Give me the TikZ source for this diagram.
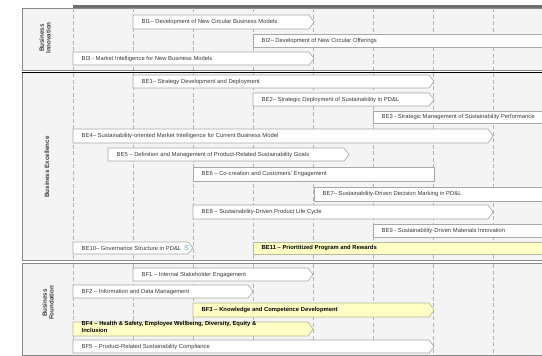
\documentclass[tikz,border=0pt]{standalone}
\usepackage{fontspec}
\setmainfont{Liberation Sans}
\definecolor{panelfill}{HTML}{F4F4F4}
\definecolor{panelline}{HTML}{8A8A8A}
\definecolor{gridline}{HTML}{B4B4B4}
\definecolor{barline}{HTML}{A8A8A8}
\definecolor{hlfill}{HTML}{FFFFC6}
\definecolor{hlline}{HTML}{B8B89A}
\definecolor{txt}{HTML}{3A3A3A}
\definecolor{scyan}{HTML}{3FAFD0}
\tikzset{
  panel/.style={draw=panelline,fill=panelfill,line width=0.6pt},
  grid/.style={draw=gridline,line width=0.5pt,dash pattern=on 4pt off 2.5pt},
  plainbar/.style={draw=barline,fill=white,line width=0.6pt},
  hlbar/.style={draw=hlline,fill=hlfill,line width=0.6pt},
  plaintext/.style={anchor=west,inner sep=0pt,text=txt,font=\fontsize{5.85}{6.5}\selectfont},
  hltext/.style={anchor=west,inner sep=0pt,text=black,font=\fontsize{5.85}{6.5}\selectfont\bfseries},
  grouplabel/.style={rotate=90,align=center,inner sep=0pt,text=txt,font=\fontsize{6.2}{6.6}\selectfont\bfseries},
}
% arrow bar: name, x0, x1, ytop, ybot, kind(plain/hl), text
\newcommand\abar[7]{%
  \draw[#6bar] (#2,#4) -- ({#3-5},#4) -- (#3,{(#4+#5)/2}) -- ({#3-5},#5) -- (#2,#5) -- cycle;
  \node[#6text] (#1) at ({#2+8.5},{(#4+#5)/2}) {#7};
}
% rectangular bar
\newcommand\rbar[7]{%
  \draw[#6bar] (#2,#4) rectangle (#3,#5);
  \node[#6text] (#1) at ({#2+8.5},{(#4+#5)/2}) {#7};
}
\begin{document}
\begin{tikzpicture}[x=1pt,y=-1pt]
\useasboundingbox (0,0) rectangle (542,356);
% frame
\fill[white] (0,0) rectangle (542,356);
\draw[panelline!80!black,line width=2.2pt] (73,6.5) -- (545,6.5);
\draw[panel] (22,8) rectangle (546,70);
\draw[panel] (22,72) rectangle (546,260);
\draw[black,line width=1pt] (22,72) -- (546,72);
\draw[panel] (22,263) rectangle (546,355);
% grid
\foreach \gx in {73,133,193,253,313,373,433,493}{
  \draw[grid] (\gx,8) -- (\gx,70);
  \draw[grid] (\gx,73) -- (\gx,259);
  \draw[grid] (\gx,264) -- (\gx,354);
}
% group labels
\node[grouplabel] (gi) at (45,38) {Business\\Innovation};
\node[grouplabel] (ge) at (47,167) {Business Excellence};
\node[grouplabel] (gf) at (48,303) {Business\\Foundation};
% Business Innovation
\abar{bi1}{133}{314}{15}{29}{plain}{BI1-- Development of New Circular Business Models}
\rbar{bi2}{253}{547}{34}{47}{plain}{BI2-- Development of New Circular Offerings}
\abar{bi3}{73}{314}{52}{65}{plain}{BI3 - Market Intelligence for New Business Models}
% Business Excellence
\abar{be1}{133}{434}{75}{88}{plain}{BE1-- Strategy Development and Deployment}
\abar{be2}{253}{434}{93}{106}{plain}{BE2-- Strategic Deployment of Sustainability in PD\&L}
\rbar{be3}{373}{547}{111}{123}{plain}{BE3 - Strategic Management of Sustainability Performance}
\abar{be4}{73}{493}{129}{143}{plain}{BE4-- Sustainability-oriented Market Intelligence for Current Business Model}
\abar{be5}{108}{349}{148}{161}{plain}{BE5 -- Definition and Management of Product-Related Sustainability Goals}
\rbar{be6}{193}{434}{167}{181}{plain}{BE6 -- Co-creation and Customers' Engagement}
\rbar{be7}{314}{547}{187}{201}{plain}{BE7-- Sustainability-Driven Decision Marking in PD\&L}
\abar{be8}{193}{493}{205}{219}{plain}{BE8 -- Sustainability-Driven Product Life Cycle}
\rbar{be9}{373}{547}{224}{237}{plain}{BE9 - Sustainability-Driven Materials Innovation}
\abar{be10}{73}{193}{242}{254}{plain}{BE10-- Governance Structure in PD\&L}
\node[anchor=center,inner sep=0pt,text=scyan,font=\fontsize{7}{7}\selectfont] (be10s) at (186.5,248) {S};
\rbar{be11}{253}{547}{242}{254}{hl}{BE11 -- Priortitized Program and Rewards}
% Business Foundation
\abar{bf1}{133}{313}{268}{281}{plain}{BF1 -- Internal Stakeholder Engagement}
\abar{bf2}{73}{253}{285}{298}{plain}{BF2 -- Information and Data Management}
\abar{bf3}{193}{434}{303}{317}{hl}{BF3 -- Knowledge and Competence Development}
\abar{bf4}{73}{313}{322}{336}{hl}{}
\node[hltext,align=left,font=\fontsize{5.85}{7.4}\selectfont\bfseries] (bf4t) at (81.5,327) {BF4 -- Health \& Safety, Employee Wellbeing, Diversity, Equity \&\\Inclusion};
\abar{bf5}{73}{434}{340}{353}{plain}{BF5 -- Product-Related Sustainability Compliance}
\end{tikzpicture}
\end{document}
